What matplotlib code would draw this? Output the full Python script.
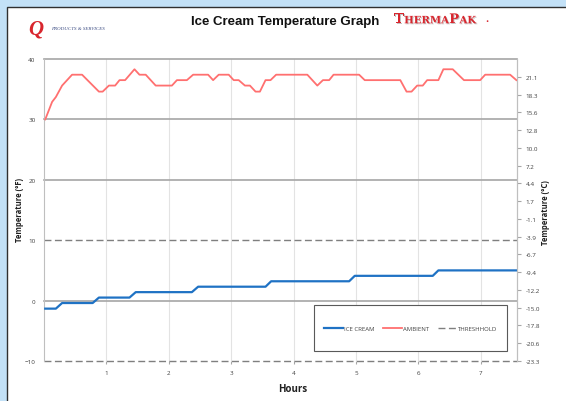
import numpy as np
import matplotlib
matplotlib.use("Agg")
import matplotlib.pyplot as plt
from matplotlib.patches import Rectangle
import matplotlib.patheffects as pe

# data (hours, deg F)
ambient_hours = [0.02, 0.13, 0.19, 0.29, 0.45, 0.61, 0.88, 0.94, 1.04, 1.14, 1.21, 1.30,
                 1.45, 1.53, 1.63, 1.79, 2.05, 2.13, 2.29, 2.39, 2.63, 2.71, 2.80, 2.96,
                 3.04, 3.12, 3.22, 3.30, 3.39, 3.46, 3.55, 3.63, 3.72, 4.22, 4.38, 4.47,
                 4.57, 4.64, 5.05, 5.14, 5.71, 5.81, 5.89, 5.98, 6.07, 6.14, 6.32, 6.40,
                 6.55, 6.73, 6.99, 7.07, 7.47, 7.57]
ambient_temp = [30.0, 32.9, 33.7, 35.6, 37.4, 37.4, 34.6, 34.6, 35.6, 35.6, 36.5, 36.5,
                38.3, 37.4, 37.4, 35.6, 35.6, 36.5, 36.5, 37.4, 37.4, 36.5, 37.4, 37.4,
                36.5, 36.5, 35.6, 35.6, 34.6, 34.6, 36.5, 36.5, 37.4, 37.4, 35.6, 36.5,
                36.5, 37.4, 37.4, 36.5, 36.5, 34.6, 34.6, 35.6, 35.6, 36.5, 36.5, 38.3,
                38.3, 36.5, 36.5, 37.4, 37.4, 36.5]

ice_hours = [0.02, 0.19, 0.29, 0.78, 0.88, 1.37, 1.47, 2.37, 2.47, 3.55, 3.64,
             4.89, 4.98, 6.23, 6.32, 7.57]
ice_temp = [-1.33, -1.33, -0.4, -0.4, 0.5, 0.5, 1.4, 1.4, 2.3, 2.3, 3.2,
            3.2, 4.1, 4.1, 5.0, 5.0]

thresholds = [10, -10]
grid_levels = [40, 30, 20, 0]
hour_ticks = [1, 2, 3, 4, 5, 6, 7]
f_ticks = [40, 30, 20, 10, 0, -10]
c_ticks_f = list(range(-10, 75, 5))

plt.rcParams['font.family'] = ['Open Sans', 'DejaVu Sans']

fig = plt.figure(figsize=(5.66, 4.02), dpi=100)
fig.patch.set_facecolor('#C3E1F7')
fig.patches.append(Rectangle((7 / 566, -0.01), 1.0, 1 - 8 / 402 + 0.01,
                             transform=fig.transFigure, facecolor='white',
                             edgecolor='#303030', linewidth=1.0, zorder=-10))

ax = fig.add_axes([44 / 566, 40 / 402, 473 / 566, 302 / 402])
ax.set_zorder(2)
ax.set_xlim(0, 7.58)
ax.set_ylim(-10, 40)
ax.patch.set_alpha(0)

for h in hour_ticks:
    ax.axvline(h, color='#E3E3E3', lw=0.8, zorder=1)
for g in grid_levels:
    ax.axhline(g, color='#A6A6A6', lw=1.2, zorder=2, clip_on=False)
for t in thresholds:
    ax.axhline(t, color='#7F7F7F', lw=1.0, ls=(0, (5, 2.5)), zorder=2, clip_on=False)

ax.plot(ice_hours, ice_temp, color='#1F72C4', lw=1.6, zorder=4, label='ICE CREAM')
ax.plot(ambient_hours, ambient_temp, color='#FF7070', lw=1.3, zorder=4, label='AMBIENT')
ax.plot([], [], color='#7F7F7F', lw=1.0, ls=(0, (5, 2.5)), label='THRESHHOLD')

for s in ['top', 'bottom']:
    ax.spines[s].set_visible(False)
ax.spines['left'].set_color('#BFBFBF')
ax.spines['right'].set_color('#BFBFBF')

ax.set_yticks(f_ticks)
ax.set_xticks(hour_ticks)
ax.tick_params(axis='y', length=0, pad=6, labelsize=4.5, labelcolor='#404040')
ax.tick_params(axis='x', length=2.5, color='#A6A6A6', pad=4, labelsize=4.5, labelcolor='#404040')

ax2 = ax.twinx()
ax2.set_ylim(-23.333, 23.889)
c_ticks = [(f - 32) * 5 / 9 for f in c_ticks_f]
ax2.set_yticks(c_ticks)
ax2.set_yticklabels(['%.1f' % c for c in c_ticks])
ax2.tick_params(axis='y', length=3, color='#A6A6A6', pad=3, labelsize=4.5, labelcolor='#404040')
for s in ['top', 'bottom', 'left']:
    ax2.spines[s].set_visible(False)
ax2.spines['right'].set_color('#BFBFBF')

# legend box
ax.add_patch(Rectangle((0.571, 0.033), 0.408, 0.152, transform=ax.transAxes,
                       facecolor='white', edgecolor='#595959', lw=0.8, zorder=5))
ax.legend(loc='center', bbox_to_anchor=(0.775, 0.109), ncol=3, frameon=False,
          fontsize=4.3, handlelength=3.2, handletextpad=0.2, columnspacing=1.4,
          labelcolor='#404040').set_zorder(6)

fig.text(20 / 566, 1 - 210 / 402, 'Temperature (°F)', rotation=90, ha='center', va='center',
         fontsize=5.5, fontweight='bold', color='#202020')
fig.text(546 / 566, 1 - 213 / 402, 'Temperature (°C)', rotation=90, ha='center', va='center',
         fontsize=5.5, fontweight='bold', color='#202020')
fig.text(293 / 566, 1 - 390 / 402, 'Hours', ha='center', va='center',
         fontsize=7, fontweight='bold', color='#202020')

fig.text(285 / 566, 1 - 22 / 402, 'Ice Cream Temperature Graph', ha='center', va='center',
         fontsize=9.5, fontweight='bold', family='Liberation Sans', color='#111111')

# logos as text
fig.text(36 / 566, 1 - 30 / 402, 'Q', ha='center', va='center', fontsize=15,
         fontstyle='italic', fontweight='bold', family='Liberation Serif', color='#D8262E')
fig.text(51 / 566, 1 - 29 / 402, 'PRODUCTS & SERVICES', ha='left', va='center', fontsize=3.6,
         fontstyle='italic', family='Liberation Serif', color='#3F4F85')

# THERMAPAK in small caps, pieces chained left to right
shadow = [pe.withSimplePatchShadow(offset=(0.7, -0.7), shadow_rgbFace='#888888', alpha=0.5)]
logo_style = dict(fontweight='bold', family='DejaVu Serif', color='#D8262E', path_effects=shadow)
big, small = 9.5, 7.3
desc = 0.236  # descent fraction of the font size
prev = fig.text(394 / 566, 1 - 27 / 402, 'T', ha='left', va='bottom', fontsize=big, **logo_style)
prev_size = big
for piece, size in [('HERMA', small), ('P', big), ('AK', small)]:
    dy = desc * (prev_size - size)
    prev = ax.annotate(piece, xy=(1, 0), xycoords=prev, xytext=(0.2, dy),
                       textcoords='offset points', ha='left', va='bottom',
                       fontsize=size, annotation_clip=False, **logo_style)
    prev_size = size
fig.text(487 / 566, 1 - 23 / 402, '•', ha='center', va='center', fontsize=6, color='#D8262E')

fig.savefig('out.png', dpi=100, facecolor=fig.get_facecolor())
